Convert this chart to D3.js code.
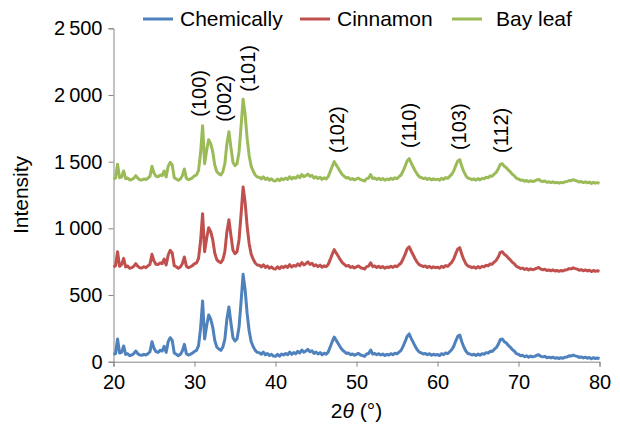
<!DOCTYPE html>
<html>
<head>
<meta charset="utf-8">
<script src="https://cdn.jsdelivr.net/npm/d3@7"></script>
<style>
  body { margin: 0; background: #fff; }
  text { font-family: 'Liberation Sans', Arial, sans-serif; }
</style>
</head>
<body>
<svg id="chart" width="620" height="433"></svg>
<script>
// 2θ sampling grid, 20° to 80° every 0.25°
const angles = d3.range(0, 241).map(i => 20 + i * 0.25)

const seriesNames = ['Chemically', 'Cinnamon', 'Bay leaf']
const seriesColors = ['#4f81bd', '#c0504d', '#9bbb59']

// intensities, one row per 5°
const chemically = [
  55, 60, 170, 65, 70, 118, 55, 60, 45, 50, 60, 80, 60, 50, 48, 55, 50, 60, 75, 150,
  100, 75, 70, 85, 80, 115, 70, 150, 180, 160, 65, 55, 45, 55, 80, 130, 60, 50, 55, 65,
  78, 85, 120, 250, 455, 170, 270, 350, 320, 260, 160, 110, 95, 85, 110, 170, 320, 410, 290, 180,
  155, 170, 260, 450, 655, 540, 360, 230, 150, 112, 85, 70, 68, 56, 72, 52, 62, 46, 56, 42,
  40, 55, 42, 58, 50, 62, 52, 72, 55, 68, 60, 78, 65, 88, 72, 80, 92, 75, 82, 62,
  72, 58, 68, 52, 64, 56, 72, 110, 150, 185, 160, 135, 110, 88, 75, 62, 66, 52, 58, 48,
  56, 62, 50, 46, 40, 58, 62, 88, 58, 62, 52, 60, 50, 58, 46, 55, 50, 60, 52, 64,
  58, 72, 85, 115, 150, 190, 208, 175, 145, 115, 90, 72, 66, 58, 62, 52, 60, 48, 56, 50,
  54, 46, 60, 52, 66, 60, 75, 90, 115, 155, 190, 200, 150, 110, 80, 62, 58, 50, 56, 46,
  58, 48, 60, 56, 68, 64, 78, 76, 92, 105, 130, 165, 170, 150, 140, 122, 108, 90, 78, 60,
  55, 45, 48, 38, 44, 34, 42, 36, 40, 48, 52, 40, 36, 40, 30, 34, 28, 34, 26, 30,
  24, 30, 26, 34, 36, 44, 42, 50, 44, 40, 32, 36, 28, 34, 26, 32, 22, 30, 24, 28,
  22
]
const cinnamon = [
  710, 720, 825, 715, 728, 775, 710, 718, 700, 705, 715, 735, 715, 705, 703, 712, 705, 718, 730, 805,
  755, 730, 728, 740, 735, 770, 725, 800, 835, 815, 720, 712, 700, 710, 735, 785, 715, 705, 712, 720,
  735, 740, 775, 905, 1110, 825, 925, 1005, 975, 915, 815, 765, 750, 742, 765, 825, 975, 1065, 945, 835,
  810, 825, 915, 1105, 1310, 1195, 1015, 885, 805, 768, 740, 725, 723, 711, 727, 707, 717, 701, 711, 697,
  695, 712, 698, 713, 705, 718, 707, 728, 710, 722, 716, 733, 720, 744, 726, 735, 748, 730, 738, 718,
  727, 713, 724, 708, 719, 712, 728, 765, 805, 840, 815, 790, 765, 743, 730, 717, 722, 707, 713, 703,
  711, 718, 705, 701, 695, 713, 717, 742, 713, 718, 707, 716, 705, 713, 701, 710, 706, 715, 707, 719,
  713, 727, 740, 770, 805, 845, 862, 830, 800, 770, 745, 727, 721, 713, 718, 707, 715, 703, 711, 705,
  709, 701, 716, 707, 721, 715, 730, 745, 770, 810, 845, 855, 805, 765, 735, 717, 713, 705, 711, 701,
  713, 703, 715, 711, 723, 719, 733, 731, 747, 760, 785, 820, 825, 805, 795, 777, 763, 745, 733, 715,
  708, 698, 702, 692, 698, 688, 696, 690, 694, 702, 706, 694, 690, 694, 684, 688, 682, 688, 680, 684,
  678, 684, 680, 688, 690, 698, 696, 704, 698, 694, 686, 690, 682, 688, 680, 686, 676, 684, 678, 682,
  677
]
const bayLeaf = [
  1370, 1378, 1480, 1380, 1385, 1430, 1372, 1378, 1362, 1366, 1375, 1395, 1376, 1365, 1363, 1370, 1366, 1376, 1390, 1465,
  1415, 1390, 1386, 1400, 1395, 1430, 1385, 1465, 1495, 1475, 1380, 1370, 1360, 1370, 1395, 1445, 1375, 1365, 1370, 1380,
  1393, 1400, 1435, 1565, 1770, 1485, 1585, 1665, 1635, 1575, 1475, 1425, 1410, 1400, 1425, 1485, 1635, 1725, 1605, 1495,
  1470, 1485, 1575, 1765, 1968, 1855, 1675, 1545, 1465, 1428, 1400, 1385, 1383, 1371, 1387, 1367, 1377, 1361, 1371, 1357,
  1355, 1370, 1357, 1373, 1365, 1377, 1367, 1387, 1370, 1383, 1375, 1393, 1380, 1403, 1387, 1395, 1407, 1390, 1397, 1377,
  1387, 1373, 1383, 1367, 1379, 1371, 1387, 1425, 1465, 1500, 1475, 1450, 1425, 1403, 1390, 1377, 1381, 1367, 1373, 1363,
  1371, 1377, 1365, 1361, 1355, 1373, 1377, 1403, 1373, 1377, 1367, 1375, 1365, 1373, 1361, 1370, 1365, 1375, 1367, 1379,
  1373, 1387, 1400, 1430, 1465, 1505, 1523, 1490, 1460, 1430, 1405, 1387, 1381, 1373, 1377, 1367, 1375, 1363, 1371, 1365,
  1369, 1361, 1375, 1367, 1381, 1375, 1390, 1405, 1430, 1470, 1505, 1515, 1465, 1425, 1395, 1377, 1373, 1365, 1371, 1361,
  1373, 1363, 1375, 1371, 1383, 1379, 1393, 1391, 1407, 1420, 1445, 1480, 1485, 1465, 1455, 1437, 1423, 1405, 1393, 1375,
  1370, 1360, 1363, 1353, 1359, 1349, 1357, 1351, 1355, 1363, 1367, 1355, 1351, 1355, 1345, 1349, 1343, 1349, 1341, 1345,
  1339, 1345, 1341, 1349, 1351, 1359, 1357, 1365, 1359, 1355, 1347, 1351, 1343, 1349, 1341, 1347, 1337, 1345, 1339, 1343,
  1337
]

// reflection labels: name, 2θ, intensity at the bottom of the text
const peakNames = ['(100)', '(002)', '(101)', '(102)', '(110)', '(103)', '(112)']
const peakAngles = [30.6, 33.7, 36.6, 47.6, 56.5, 62.7, 67.9]
const peakLevels = [1837, 1799, 2024, 1565, 1602, 1587, 1565]

const xTicks = [20, 30, 40, 50, 60, 70, 80]
const yTicks = [0, 500, 1000, 1500, 2000, 2500]

const svg = d3.select('#chart')
const margin = {top: 28.3, right: 20.5, bottom: 71.3, left: 113.5}
const width = 620 - margin.left - margin.right
const height = 433 - margin.top - margin.bottom
const axisColor = '#868686'

const x = d3.scaleLinear().domain([20, 80]).range([0, width])
const y = d3.scaleLinear().domain([0, 2500]).range([height, 0])

const g = svg.append('g')
  .attr('transform', 'translate(' + margin.left + ',' + margin.top + ')')

const locale = d3.formatLocale({decimal: '.', thousands: '\u2009', grouping: [3], currency: ['', '']})

let yAxis = g.append('g')
  .call(d3.axisLeft(y).tickValues(yTicks).tickSize(5).tickPadding(6).tickFormat(locale.format(',')))
let xAxis = g.append('g')
  .attr('transform', 'translate(0,' + height + ')')
  .call(d3.axisBottom(x).tickValues(xTicks).tickSize(5).tickPadding(8).tickFormat(d3.format('d')))

for (let ax of [xAxis, yAxis]) {
  ax.select('.domain').attr('stroke', axisColor)
  ax.selectAll('.tick line').attr('stroke', axisColor)
  ax.selectAll('.tick text').attr('fill', '#000').style('font-size', '20px')
}

const line = d3.line()
  .x((d, i) => x(angles[i]))
  .y(d => y(d))

const allSeries = [chemically, cinnamon, bayLeaf]
allSeries.forEach(function (vals, k) {
  g.append('path')
    .datum(vals)
    .attr('fill', 'none')
    .attr('stroke', seriesColors[k])
    .attr('stroke-width', 3)
    .attr('stroke-linejoin', 'round')
    .attr('d', line)
})

// peak labels, vertical
peakNames.forEach(function (name, i) {
  g.append('text')
    .attr('transform', 'translate(' + x(peakAngles[i]) + ',' + y(peakLevels[i]) + ') rotate(-90)')
    .attr('text-anchor', 'start')
    .attr('dy', '0.35em')
    .style('font-size', '20px')
    .text(name)
})

// axis titles
svg.append('text')
  .attr('transform', 'translate(28,' + (margin.top + height / 2) + ') rotate(-90)')
  .attr('text-anchor', 'middle')
  .style('font-size', '21px')
  .text('Intensity')

let xt = svg.append('text')
  .attr('x', margin.left + width / 2)
  .attr('y', 418)
  .attr('text-anchor', 'middle')
  .style('font-size', '21px')
xt.append('tspan').text('2')
xt.append('tspan').style('font-style', 'italic').text('θ')
xt.append('tspan').text(' (°)')

// legend
const legendX = [143, 300, 452]
seriesNames.forEach(function (name, k) {
  let lg = svg.append('g').attr('transform', 'translate(' + legendX[k] + ',19)')
  lg.append('line')
    .attr('x1', 0).attr('x2', 30)
    .attr('stroke', seriesColors[k])
    .attr('stroke-width', 3)
  lg.append('text')
    .attr('x', k === 2 ? 44 : 37)
    .attr('dy', '0.35em')
    .style('font-size', '21px')
    .text(name)
})
</script>
</body>
</html>
